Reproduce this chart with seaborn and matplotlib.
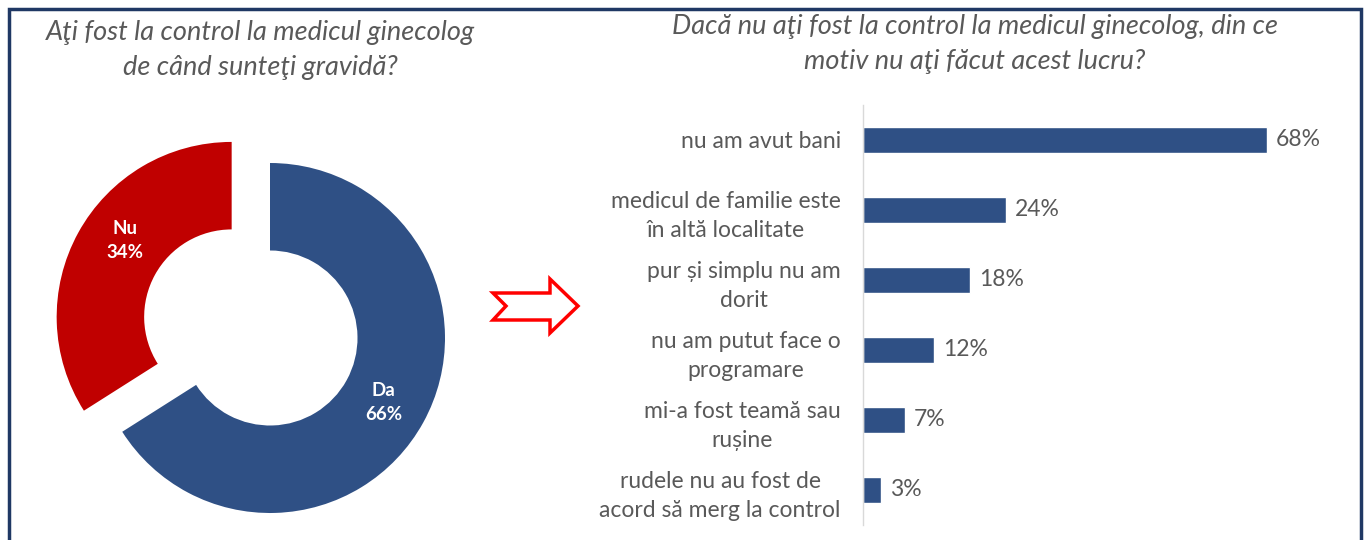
import matplotlib
matplotlib.use("Agg")
import matplotlib.pyplot as plt
import seaborn as sns
import pandas as pd
from matplotlib.patches import Polygon, Rectangle

# donut data
pie_labels = ["Da", "Nu"]
pie_values = [66, 34]

# bar data
reasons = [
    "nu am avut bani",
    "medicul de familie este\nîn altă localitate",
    "pur și simplu nu am\ndorit",
    "nu am putut face o\nprogramare",
    "mi-a fost teamă sau\nrușine",
    "rudele nu au fost de\nacord să merg la control",
]
reason_pct = [68, 24, 18, 12, 7, 3]

title_left = "Aţi fost la control la medicul ginecolog\nde când sunteţi gravidă?"
title_right = "Dacă nu aţi fost la control la medicul ginecolog, din ce\nmotiv nu aţi făcut acest lucru?"

BLUE = "#2F5085"
RED = "#C00000"
GREY = "#595959"

sns.set_theme(style="white")
plt.rcParams['font.family'] = ['Lato', 'DejaVu Sans']

W, H = 1366, 540
fig = plt.figure(figsize=(W / 100, H / 100), dpi=100)

def px_axes(left, top, width, height):
    # axes placed in pixel units (top-left origin)
    return fig.add_axes([left / W, 1 - (top + height) / H, width / W, height / H])

# ----- donut -----
cx, cy, r = 270, 338, 175
lim = 1.45
ax_pie = px_axes(cx - lim * r, cy - lim * r, 2 * lim * r, 2 * lim * r)
wedges, _ = ax_pie.pie(pie_values, colors=[BLUE, RED], startangle=90, counterclock=False,
                       explode=[0, 0.25], radius=1,
                       wedgeprops=dict(width=0.5, edgecolor="none"))
ax_pie.set_xlim(-lim, lim)
ax_pie.set_ylim(-lim, lim)
ax_pie.axis("off")
for lab, val, (tx, ty) in zip(pie_labels, pie_values, [(0.65, -0.37), (-0.83, 0.56)]):
    ax_pie.text(tx, ty, f"{lab}\n{val}%", color="white", fontsize=13.5, fontweight="bold",
                ha="center", va="center", linespacing=1.5)

fig.text(260 / W, 1 - 50 / H, title_left, ha="center", va="center", fontsize=19.5,
         style="italic", color=GREY, linespacing=1.5)

# ----- bars -----
df = pd.DataFrame({"reason": reasons, "pct": reason_pct})
px_per_pct = 404 / 68
xmax = 75
ax_bar = px_axes(863, 105, xmax * px_per_pct, 420)
sns.barplot(data=df, x="pct", y="reason", color=BLUE, saturation=1, width=0.37, ax=ax_bar)
ax_bar.set_xlim(0, xmax)
ax_bar.set_xlabel("")
ax_bar.set_ylabel("")
ax_bar.set_xticks([])
for s in ["top", "right", "bottom"]:
    ax_bar.spines[s].set_visible(False)
ax_bar.spines["left"].set_color("#D9D9D9")
ax_bar.spines["left"].set_linewidth(1)
ax_bar.tick_params(axis="y", length=0, pad=16, labelsize=16.5, labelcolor=GREY)
for lbl in ax_bar.get_yticklabels():
    lbl.set_horizontalalignment("right")
    lbl.set_multialignment("center")
    lbl.set_linespacing(1.45)
for i, v in enumerate(reason_pct):
    ax_bar.text(v + 1.5, i, f"{v}%", va="center", ha="left", fontsize=16.5, color=GREY)

fig.text(975 / W, 1 - 44 / H, title_right, ha="center", va="center", fontsize=19.5,
         style="italic", color=GREY, linespacing=1.5)

# ----- arrow -----
arrow_pts = [(493, 293), (550, 293), (550, 279), (578, 306), (550, 333),
             (550, 320), (493, 320), (506, 306)]
fig.patches.append(Polygon([(x / W, 1 - y / H) for x, y in arrow_pts], closed=True,
                           facecolor="white", edgecolor="#FF0000", linewidth=2.5,
                           transform=fig.transFigure, figure=fig))

# ----- frame -----
fig.patches.append(Rectangle((9 / W, -0.05), (1361 - 9) / W, 1.05 - 9 / H,
                             fill=False, edgecolor="#1F3864", linewidth=2.5,
                             transform=fig.transFigure, figure=fig))

fig.savefig("out.png", dpi=100, facecolor="white")
